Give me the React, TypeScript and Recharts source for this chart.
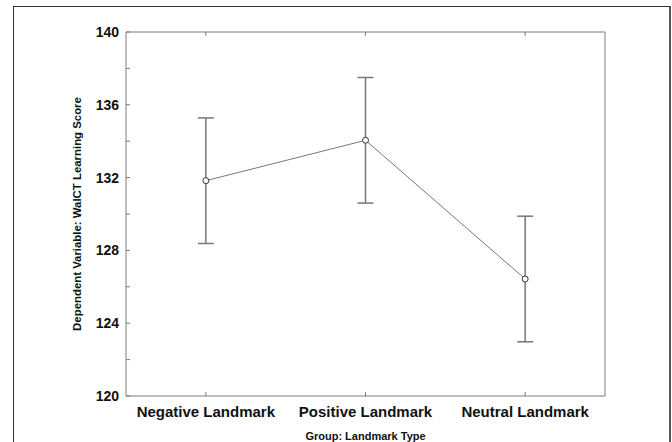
import { ComposedChart, Line, ErrorBar, XAxis, YAxis } from 'recharts'

const groups = ['Negative Landmark', 'Positive Landmark', 'Neutral Landmark']
const means = [131.83, 134.05, 126.43]
const errors = [3.45, 3.45, 3.45]
const yTicks = [120, 122, 124, 126, 128, 130, 132, 134, 136, 138, 140]
const yLabelled = [120, 124, 128, 132, 136, 140]

const data = groups.map((g, i) => ({ group: g, score: means[i], err: errors[i] }))

const FONT = '"Liberation Sans", Arial, sans-serif'
const AXIS = '#7a7a7a'

function YTick({ x, y, payload }: any) {
  if (!yLabelled.includes(payload.value)) return <g />
  return (
    <text x={x} y={y} textAnchor="end" dominantBaseline="central" fontFamily={FONT} fontWeight="bold" fontSize={14} fill="#111">
      {payload.value}
    </text>
  )
}

function XTick({ x, y, payload }: any) {
  return (
    <text x={x} y={y} textAnchor="middle" dominantBaseline="central" fontFamily={FONT} fontWeight="bold" fontSize={15} fill="#111">
      {payload.value}
    </text>
  )
}

const Empty = () => <g />

export default function App() {
  return (
    <div style={{ position: 'absolute', left: 0, top: 0, width: 672, height: 442, background: '#fff', overflow: 'hidden' }}>
      {/* outer frame, open at the bottom */}
      <div
        style={{
          position: 'absolute',
          left: 13,
          top: 6,
          width: 655,
          height: 500,
          borderTop: '1px solid #333',
          borderLeft: '1px solid #333',
          borderRight: '2px solid #555',
        }}
      />
      <div style={{ position: 'absolute', left: 0, top: 0 }}>
        <ComposedChart width={672} height={442} data={data} margin={{ top: 30, right: 57, bottom: 0, left: 66 }}>
          <XAxis
            dataKey="group"
            scale="band"
            height={46}
            stroke={AXIS}
            tickSize={-4}
            tickMargin={19}
            tick={<XTick />}
            interval={0}
            label={{
              value: 'Group: Landmark Type',
              position: 'insideBottom',
              offset: 2,
              style: { fontFamily: FONT, fontWeight: 'bold', fontSize: 11, fill: '#111' },
            }}
          />
          <XAxis xAxisId="top" orientation="top" dataKey="group" scale="band" height={2} stroke={AXIS} tickSize={-4} tick={<Empty />} />
          <YAxis
            domain={[120, 140]}
            ticks={yTicks}
            width={60}
            stroke={AXIS}
            tickSize={-4}
            tickMargin={11}
            tick={<YTick />}
            interval={0}
            label={{
              value: 'Dependent Variable: WalCT Learning Score',
              angle: -90,
              position: 'insideLeft',
              offset: 11,
              style: { textAnchor: 'middle', fontFamily: FONT, fontWeight: 'bold', fontSize: 11.4, fill: '#111' },
            }}
          />
          <YAxis
            yAxisId="right"
            orientation="right"
            domain={[120, 140]}
            ticks={yTicks}
            width={10}
            stroke={AXIS}
            tickSize={-4}
            tick={<Empty />}
            interval={0}
          />
          <Line
            dataKey="score"
            stroke="#777"
            strokeWidth={1}
            dot={{ r: 3, fill: '#fff', stroke: '#333', strokeWidth: 1 }}
            activeDot={false}
            isAnimationActive={false}
          >
            <ErrorBar dataKey="err" direction="y" width={8} stroke="#777" strokeWidth={1.5} />
          </Line>
        </ComposedChart>
      </div>
    </div>
  )
}
